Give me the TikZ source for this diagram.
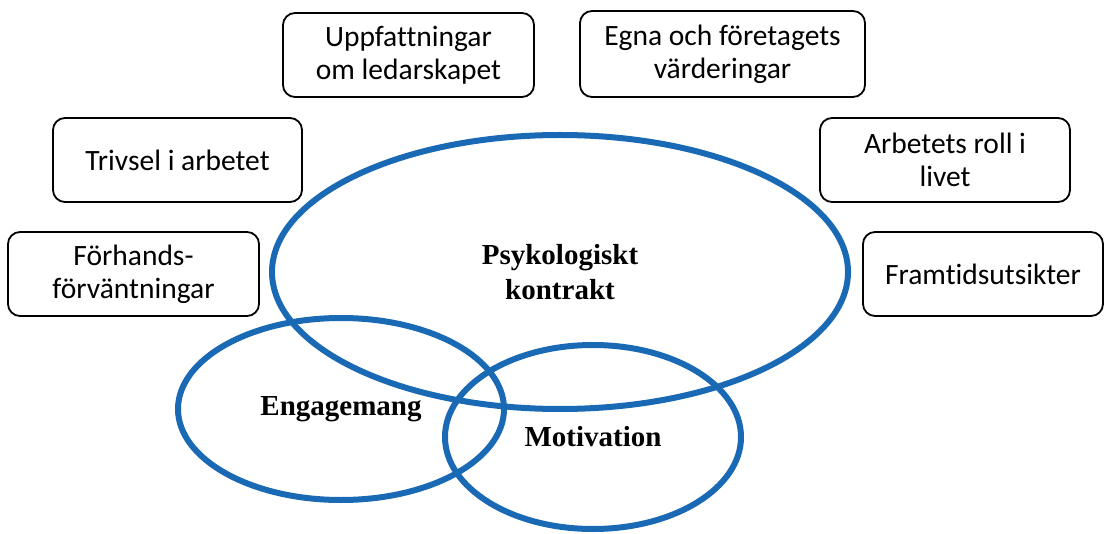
\documentclass[tikz,border=0pt]{standalone}
\usepackage{fontspec}
\setmainfont{Carlito}[Ligatures=NoCommon]
\newfontfamily\tnr{Liberation Serif}
\usetikzlibrary{shapes.geometric}
\definecolor{ringblue}{RGB}{25,105,180}
\begin{document}
\begin{tikzpicture}[x=1pt,y=-1pt,
  factor/.style={draw=black,line width=1.8pt,rounded corners=12pt,align=center,
    inner sep=0pt,font=\fontsize{29.5}{33}\selectfont},
  ring/.style={draw=ringblue,line width=6pt,ellipse,inner sep=0pt,align=center,
    font=\tnr\bfseries\fontsize{29}{35}\selectfont}]
\useasboundingbox (0,0) rectangle (1107,534);
\node[factor,minimum width=251pt,minimum height=84pt] (upp) at (408.5,55) {Uppfattningar\\om ledarskapet};
\node[factor,minimum width=285pt,minimum height=86pt] (egna) at (722.5,54) {Egna och företagets\\värderingar};
\node[factor,minimum width=249pt,minimum height=84pt] (triv) at (177.5,160) {Trivsel i arbetet};
\node[factor,minimum width=250pt,minimum height=84pt] (arb) at (945,160) {Arbetets roll i\\livet};
\node[factor,minimum width=251pt,minimum height=84pt] (forh) at (133.5,274) {Förhands-\\förväntningar};
\node[factor,minimum width=240pt,minimum height=84pt] (fram) at (983,274) {Framtidsutsikter};
\node[ring,minimum width=576pt,minimum height=274pt] (psyk) at (560,272) {Psykologiskt\\kontrakt};
\node[ring,minimum width=326pt,minimum height=182pt] (eng) at (341,409) {Engagemang};
\node[ring,minimum width=296pt,minimum height=184pt] (mot) at (593,437) {Motivation};
\end{tikzpicture}
\end{document}
